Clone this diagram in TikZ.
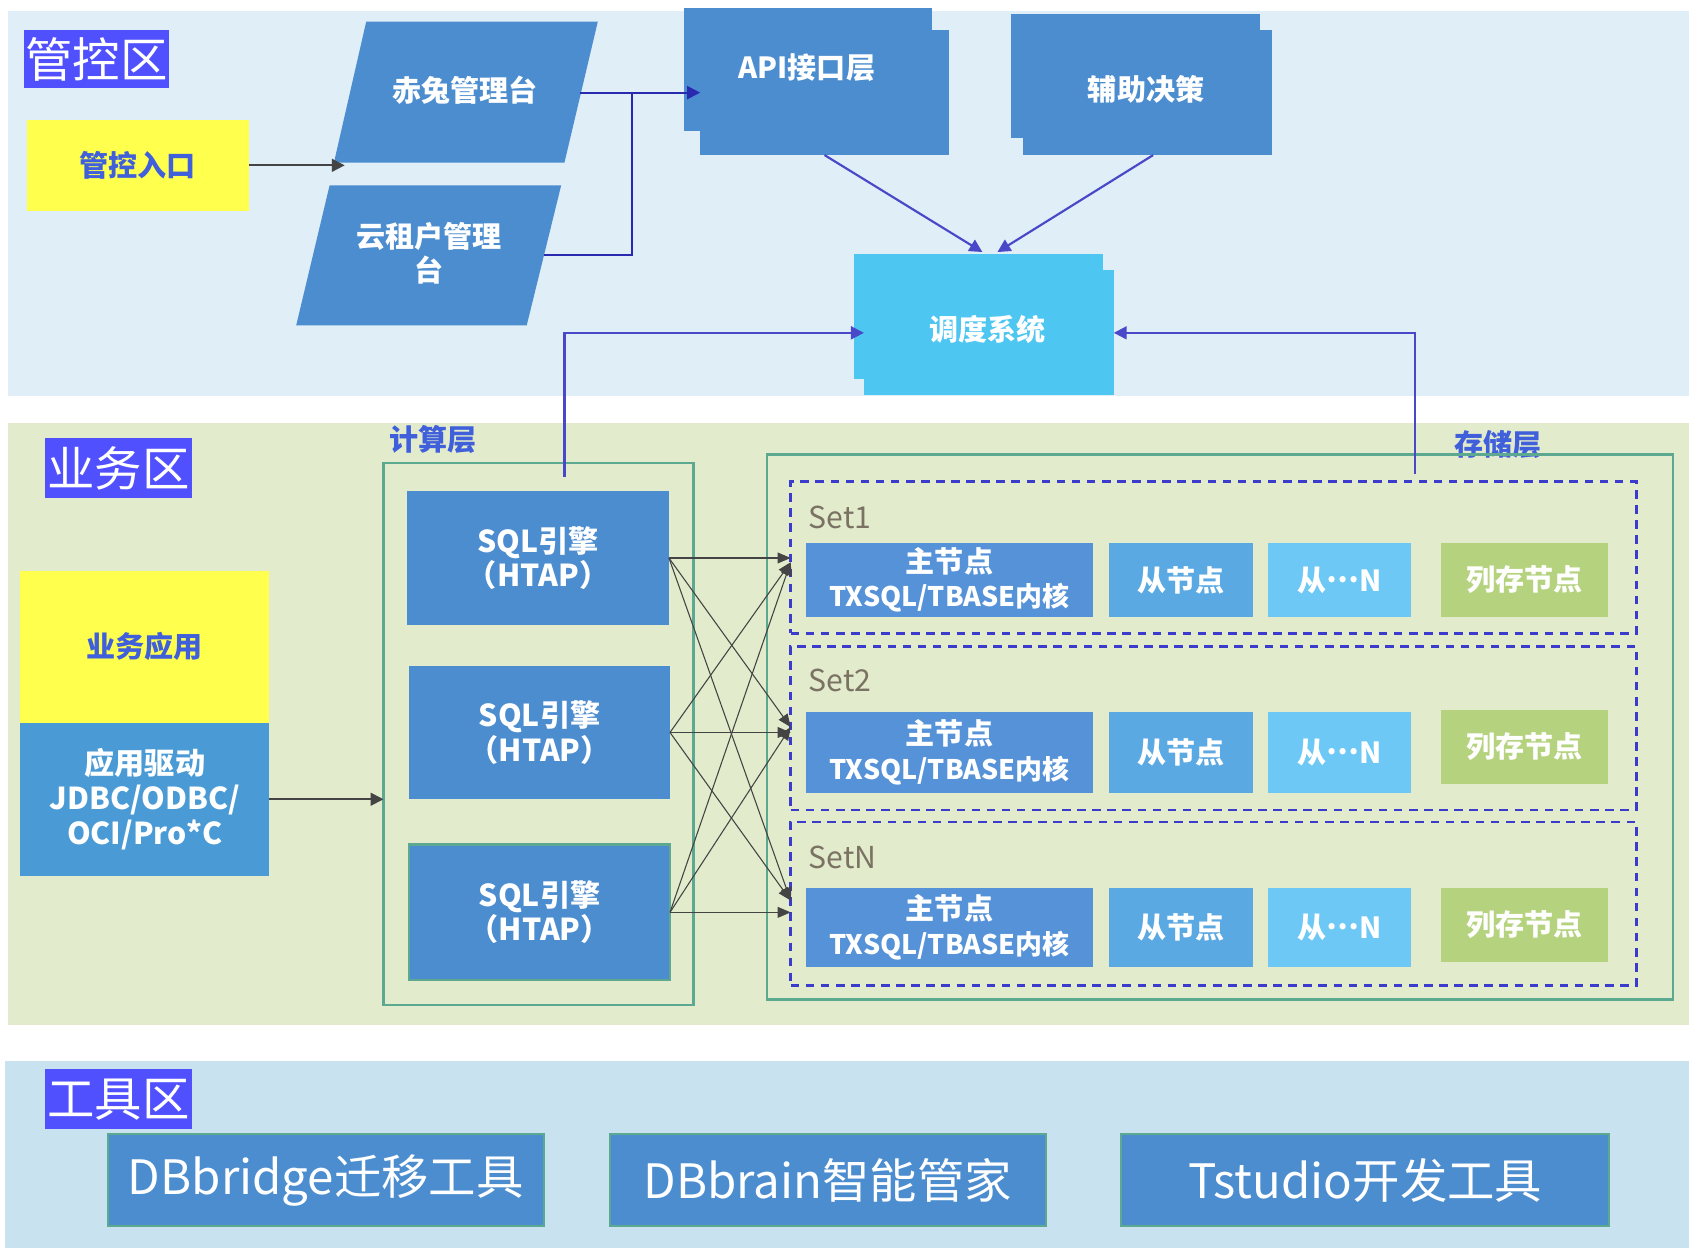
\documentclass[tikz,border=0pt]{standalone}
\usepackage{fontspec}
\setmainfont{Noto Sans CJK SC}
\usetikzlibrary{arrows.meta}
\definecolor{topbg}{HTML}{E0EEF8}
\definecolor{midbg}{HTML}{E2EBCB}
\definecolor{botbg}{HTML}{C9E2F0}
\definecolor{lblc}{HTML}{5050FF}
\definecolor{yel}{HTML}{FFFF4D}
\definecolor{boxb}{HTML}{4C8DCF}
\definecolor{drvb}{HTML}{4A9BD5}
\definecolor{cyanb}{HTML}{4DC6F2}
\definecolor{mainb}{HTML}{5592D8}
\definecolor{slvb}{HTML}{5AA9E2}
\definecolor{slvn}{HTML}{6DC8F5}
\definecolor{colg}{HTML}{B5D37F}
\definecolor{tealc}{HTML}{5DA890}
\definecolor{dashc}{HTML}{3B3BCC}
\definecolor{btxt}{HTML}{3F5FDB}
\definecolor{settx}{HTML}{7A7262}
\definecolor{darkc}{HTML}{444444}
\definecolor{bline}{HTML}{4848C8}
\definecolor{nline}{HTML}{2A2AB0}
\newcommand{\txline}{{\fontsize{12.5}{16}\selectfont TXSQL/TBASE内核}}
\newcommand{\slvdots}{从\raisebox{0.3em}{…}N}
\begin{document}
\begin{tikzpicture}[x=0.5pt,y=-0.5pt,
  every node/.style={inner sep=0pt,outer sep=0pt},
  zlabel/.style={fill=lblc,text=white,font=\fontsize{22}{24}\selectfont},
  fbox/.style={fill=boxb},
  wt/.style={text=white,align=center,font=\bfseries\fontsize{13.5}{16}\selectfont},
  bt/.style={text=btxt,align=center,font=\bfseries\fontsize{13.5}{16}\selectfont},
  cont/.style={draw=tealc,line width=1.2pt},
  setbox/.style={draw=dashc,line width=1.2pt,dash pattern=on 4pt off 3pt},
  gconn/.style={draw=darkc,line width=0.9pt,-{Triangle[length=6pt,width=6pt]}},
  xconn/.style={draw=darkc,line width=0.5pt,-{Triangle[length=6pt,width=5pt]}},
  bconn/.style={draw=bline,line width=1pt,-{Triangle[length=6pt,width=6pt]}},
  nconn/.style={draw=nline,line width=1pt,-{Triangle[length=6pt,width=6pt]}},
  settxt/.style={text=settx,font=\fontsize{14}{16}\selectfont,anchor=west},
  tool/.style={fill=boxb,draw=tealc,line width=1pt,text=white,font=\fontsize{22}{24}\selectfont},
]
\fill[white] (0,0) rectangle (1568,1159);
\useasboundingbox (0,0) rectangle (1568,1159);
% zones
\fill[topbg] (7,10) rectangle (1568,368);
\fill[midbg] (7,393) rectangle (1568,952);
\fill[botbg] (5,985) rectangle (1568,1159);
% zone labels
\node[zlabel,minimum width=67.5pt,minimum height=27pt] (zk) at (89.5,55) {管控区};
\node[zlabel,minimum width=68pt,minimum height=27.5pt] (yw) at (110,434.5) {业务区};
\node[zlabel,minimum width=68pt,minimum height=28pt] (gj) at (110,1020.5) {工具区};
% top zone
\node[fill=yel,bt,minimum width=103pt,minimum height=42.5pt] (rk) at (128,153.5) {管控入口};
\fill[boxb] (340,20) -- (555,20) -- (524,151) -- (310,151) -- cycle;
\node[wt] (chitu) at (432,84) {赤兔管理台};
\fill[boxb] (306,172) -- (521,172) -- (489,302) -- (275,302) -- cycle;
\node[wt] (yzh) at (398,235) {云租户管理\\台};
\coordinate (chituR) at (538,86);
\coordinate (yzhR) at (505,237);
\coordinate (jn) at (587,86);
\coordinate (pin) at (320,153.5);
\node[fbox,minimum width=115pt,minimum height=57.5pt] (apiB) at (750,64.5) {};
\node[fbox,minimum width=115.5pt,minimum height=58pt] (api) at (765.5,86) {};
\node[wt] (apiT) at (749,63) {API接口层};
\node[fbox,minimum width=115.5pt,minimum height=57.5pt] (fzB) at (1054.5,70.5) {};
\node[fbox,minimum width=115.5pt,minimum height=58pt] (fz) at (1065.5,86) {};
\node[wt] (fzT) at (1064,83) {辅助决策};
\node[fill=cyanb,minimum width=115.5pt,minimum height=58pt] (ddB) at (908.5,294) {};
\node[fill=cyanb,minimum width=116pt,minimum height=58pt] (dd) at (918,309) {};
\node[wt] (ddT) at (917,306) {调度系统};
\coordinate (ddin1) at (912,234);
\coordinate (ddin2) at (926,234);
\draw[gconn] (rk.east) -- (pin);
\draw[nconn] (chituR) -- (api.west);
\draw[draw=nline,line width=1pt] (yzhR) -| (jn);
\draw[bconn] (api.south) -- (ddin1);
\draw[bconn] ([xshift=2.5pt]fz.south) -- (ddin2);
% middle zone
\node[fill=yel,bt,minimum width=115.5pt,minimum height=70.5pt] (yy) at (134.5,600.5) {业务应用};
\node[fill=drvb,wt,font=\bfseries\fontsize{14}{16.25}\selectfont,minimum width=115.5pt,minimum height=71pt] (qd) at (134.5,742) {应用驱动\\JDBC/ODBC/\\OCI/Pro*C};
\node[text=btxt,font=\bfseries\fontsize{13.5}{16}\selectfont] (jsc) at (402,408) {计算层};
\node[cont,minimum width=144pt,minimum height=251.5pt] (cmp) at (500,681.5) {};
\node[fbox,wt,font=\bfseries\fontsize{14}{16}\selectfont,minimum width=121.5pt,minimum height=62pt] (sql1) at (499.5,518) {SQL引擎\\（HTAP）};
\node[fbox,wt,font=\bfseries\fontsize{14}{16}\selectfont,minimum width=121pt,minimum height=62pt] (sql2) at (501,680) {SQL引擎\\（HTAP）};
\node[fbox,draw=tealc,line width=1pt,wt,font=\bfseries\fontsize{14}{16}\selectfont,minimum width=121pt,minimum height=63pt] (sql3) at (501,847) {SQL引擎\\（HTAP）};
\node[text=btxt,font=\bfseries\fontsize{13.5}{16}\selectfont] (ccc) at (1391,413) {存储层};
\node[cont,minimum width=420.5pt,minimum height=253pt] (stor) at (1132.5,675) {};
\node[setbox,minimum width=392.5pt,minimum height=70.5pt] (set1) at (1126.5,517.5) {};
\node[setbox,minimum width=392.5pt,minimum height=76pt] (set2) at (1126.5,676) {};
\node[setbox,minimum width=392.5pt,minimum height=76pt] (setN) at (1126.5,839) {};
\node[settxt] (s1l) at (751,480) {Set1};
\node[settxt] (s2l) at (751,632) {Set2};
\node[settxt] (sNl) at (751,796) {SetN};
% rows
\node[fill=mainb,wt,minimum width=133.5pt,minimum height=34.5pt] (m1) at (881.5,538.5) {主节点\\\txline};
\node[fill=slvb,wt,minimum width=66.5pt,minimum height=34.5pt] (s1) at (1096.5,538.5) {从节点};
\node[fill=slvn,wt,minimum width=66.5pt,minimum height=34.5pt] (n1) at (1243.5,538.5) {\slvdots};
\node[fill=colg,wt,minimum width=77.5pt,minimum height=34.5pt] (c1) at (1415.5,538.5) {列存节点};
\node[fill=mainb,wt,minimum width=133.5pt,minimum height=37.5pt] (m2) at (881.5,698.5) {主节点\\\txline};
\node[fill=slvb,wt,minimum width=66.5pt,minimum height=37.5pt] (s2) at (1096.5,698.5) {从节点};
\node[fill=slvn,wt,minimum width=66.5pt,minimum height=37.5pt] (n2) at (1243.5,698.5) {\slvdots};
\node[fill=colg,wt,minimum width=77.5pt,minimum height=34.5pt] (c2) at (1415.5,693.5) {列存节点};
\node[fill=mainb,wt,minimum width=133.5pt,minimum height=37pt] (m3) at (881.5,861) {主节点\\\txline};
\node[fill=slvb,wt,minimum width=66.5pt,minimum height=37pt] (s3) at (1096.5,861) {从节点};
\node[fill=slvn,wt,minimum width=66.5pt,minimum height=37pt] (n3) at (1243.5,861) {\slvdots};
\node[fill=colg,wt,minimum width=77.5pt,minimum height=34.5pt] (c3) at (1415.5,858.5) {列存节点};
% connectors middle
\coordinate (cmpL) at (524,443);
\coordinate (stL) at (1314,440);
\draw[bconn] (cmpL) |- (dd.west);
\draw[bconn] (stL) |- (dd.east);
\draw[gconn] (qd.east) -- (qd.east -| cmp.west);
\coordinate (t1) at (734,522);
\coordinate (t2) at (734,675);
\coordinate (t3) at (734,836);
\draw[xconn] (sql1.east) -- (sql1.east -| set1.west);
\draw[xconn] (sql1.east) -- (t2);
\draw[xconn] (sql1.east) -- (t3);
\draw[xconn] (sql2.east) -- (t1);
\draw[xconn] (sql2.east) -- (sql2.east -| set2.west);
\draw[xconn] (sql2.east) -- (t3);
\draw[xconn] (sql3.east) -- (t1);
\draw[xconn] (sql3.east) -- (t2);
\draw[xconn] (sql3.east) -- (sql3.east -| setN.west);
% bottom zone
\node[tool,minimum width=202.5pt,minimum height=42.5pt] (tb1) at (302.5,1095.5) {DBbridge迁移工具};
\node[tool,minimum width=202.5pt,minimum height=42.5pt] (tb2) at (768.5,1095.5) {DBbrain智能管家};
\node[tool,minimum width=226.5pt,minimum height=42.5pt] (tb3) at (1267.5,1095.5) {Tstudio开发工具};
\end{tikzpicture}
\end{document}
